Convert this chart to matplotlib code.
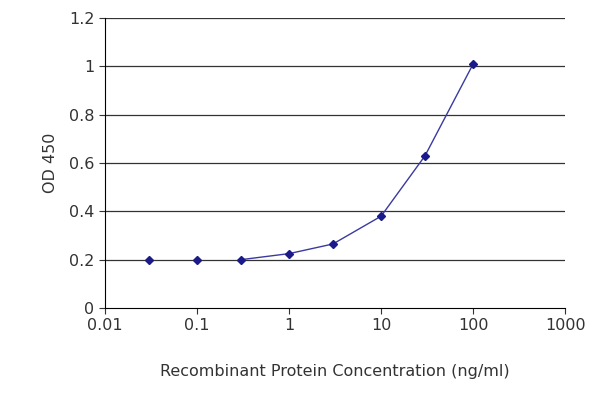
import matplotlib
matplotlib.use("Agg")
import matplotlib.pyplot as plt

conc = [0.03, 0.1, 0.3, 1, 3, 10, 30, 100]
od = [0.198, 0.198, 0.2, 0.225, 0.265, 0.38, 0.63, 1.01]
yticks = [0, 0.2, 0.4, 0.6, 0.8, 1, 1.2]
xticks = [0.01, 0.1, 1, 10, 100, 1000]
xlabels = ["0.01", "0.1", "1", "10", "100", "1000"]

fig = plt.figure(figsize=(6, 4), dpi=100)
ax = fig.add_axes([0.175, 0.23, 0.767, 0.725])
ax.set_xscale("log")
ax.set_xlim(0.01, 1000)
ax.set_ylim(0, 1.2)
for y in yticks[1:]:
    ax.axhline(y, color="#333333", lw=0.9)
ax.plot(conc[2:], od[2:], color="#3a3aa0", lw=1)
ax.plot(conc, od, "D", color="#1a1a8c", ms=4, ls="none")
ax.set_yticks(yticks)
ax.set_yticklabels(["0", "0.2", "0.4", "0.6", "0.8", "1", "1.2"])
ax.set_xticks(xticks)
ax.set_xticklabels(xlabels)
ax.minorticks_off()
ax.tick_params(labelsize=11.5, colors="#333333", length=4)
for s in ["top", "right"]:
    ax.spines[s].set_visible(False)
ax.set_ylabel("OD 450", fontsize=11.5, color="#333333", labelpad=8)
ax.set_xlabel("Recombinant Protein Concentration (ng/ml)", fontsize=11.5, color="#333333", labelpad=22)
fig.savefig("out.png")
